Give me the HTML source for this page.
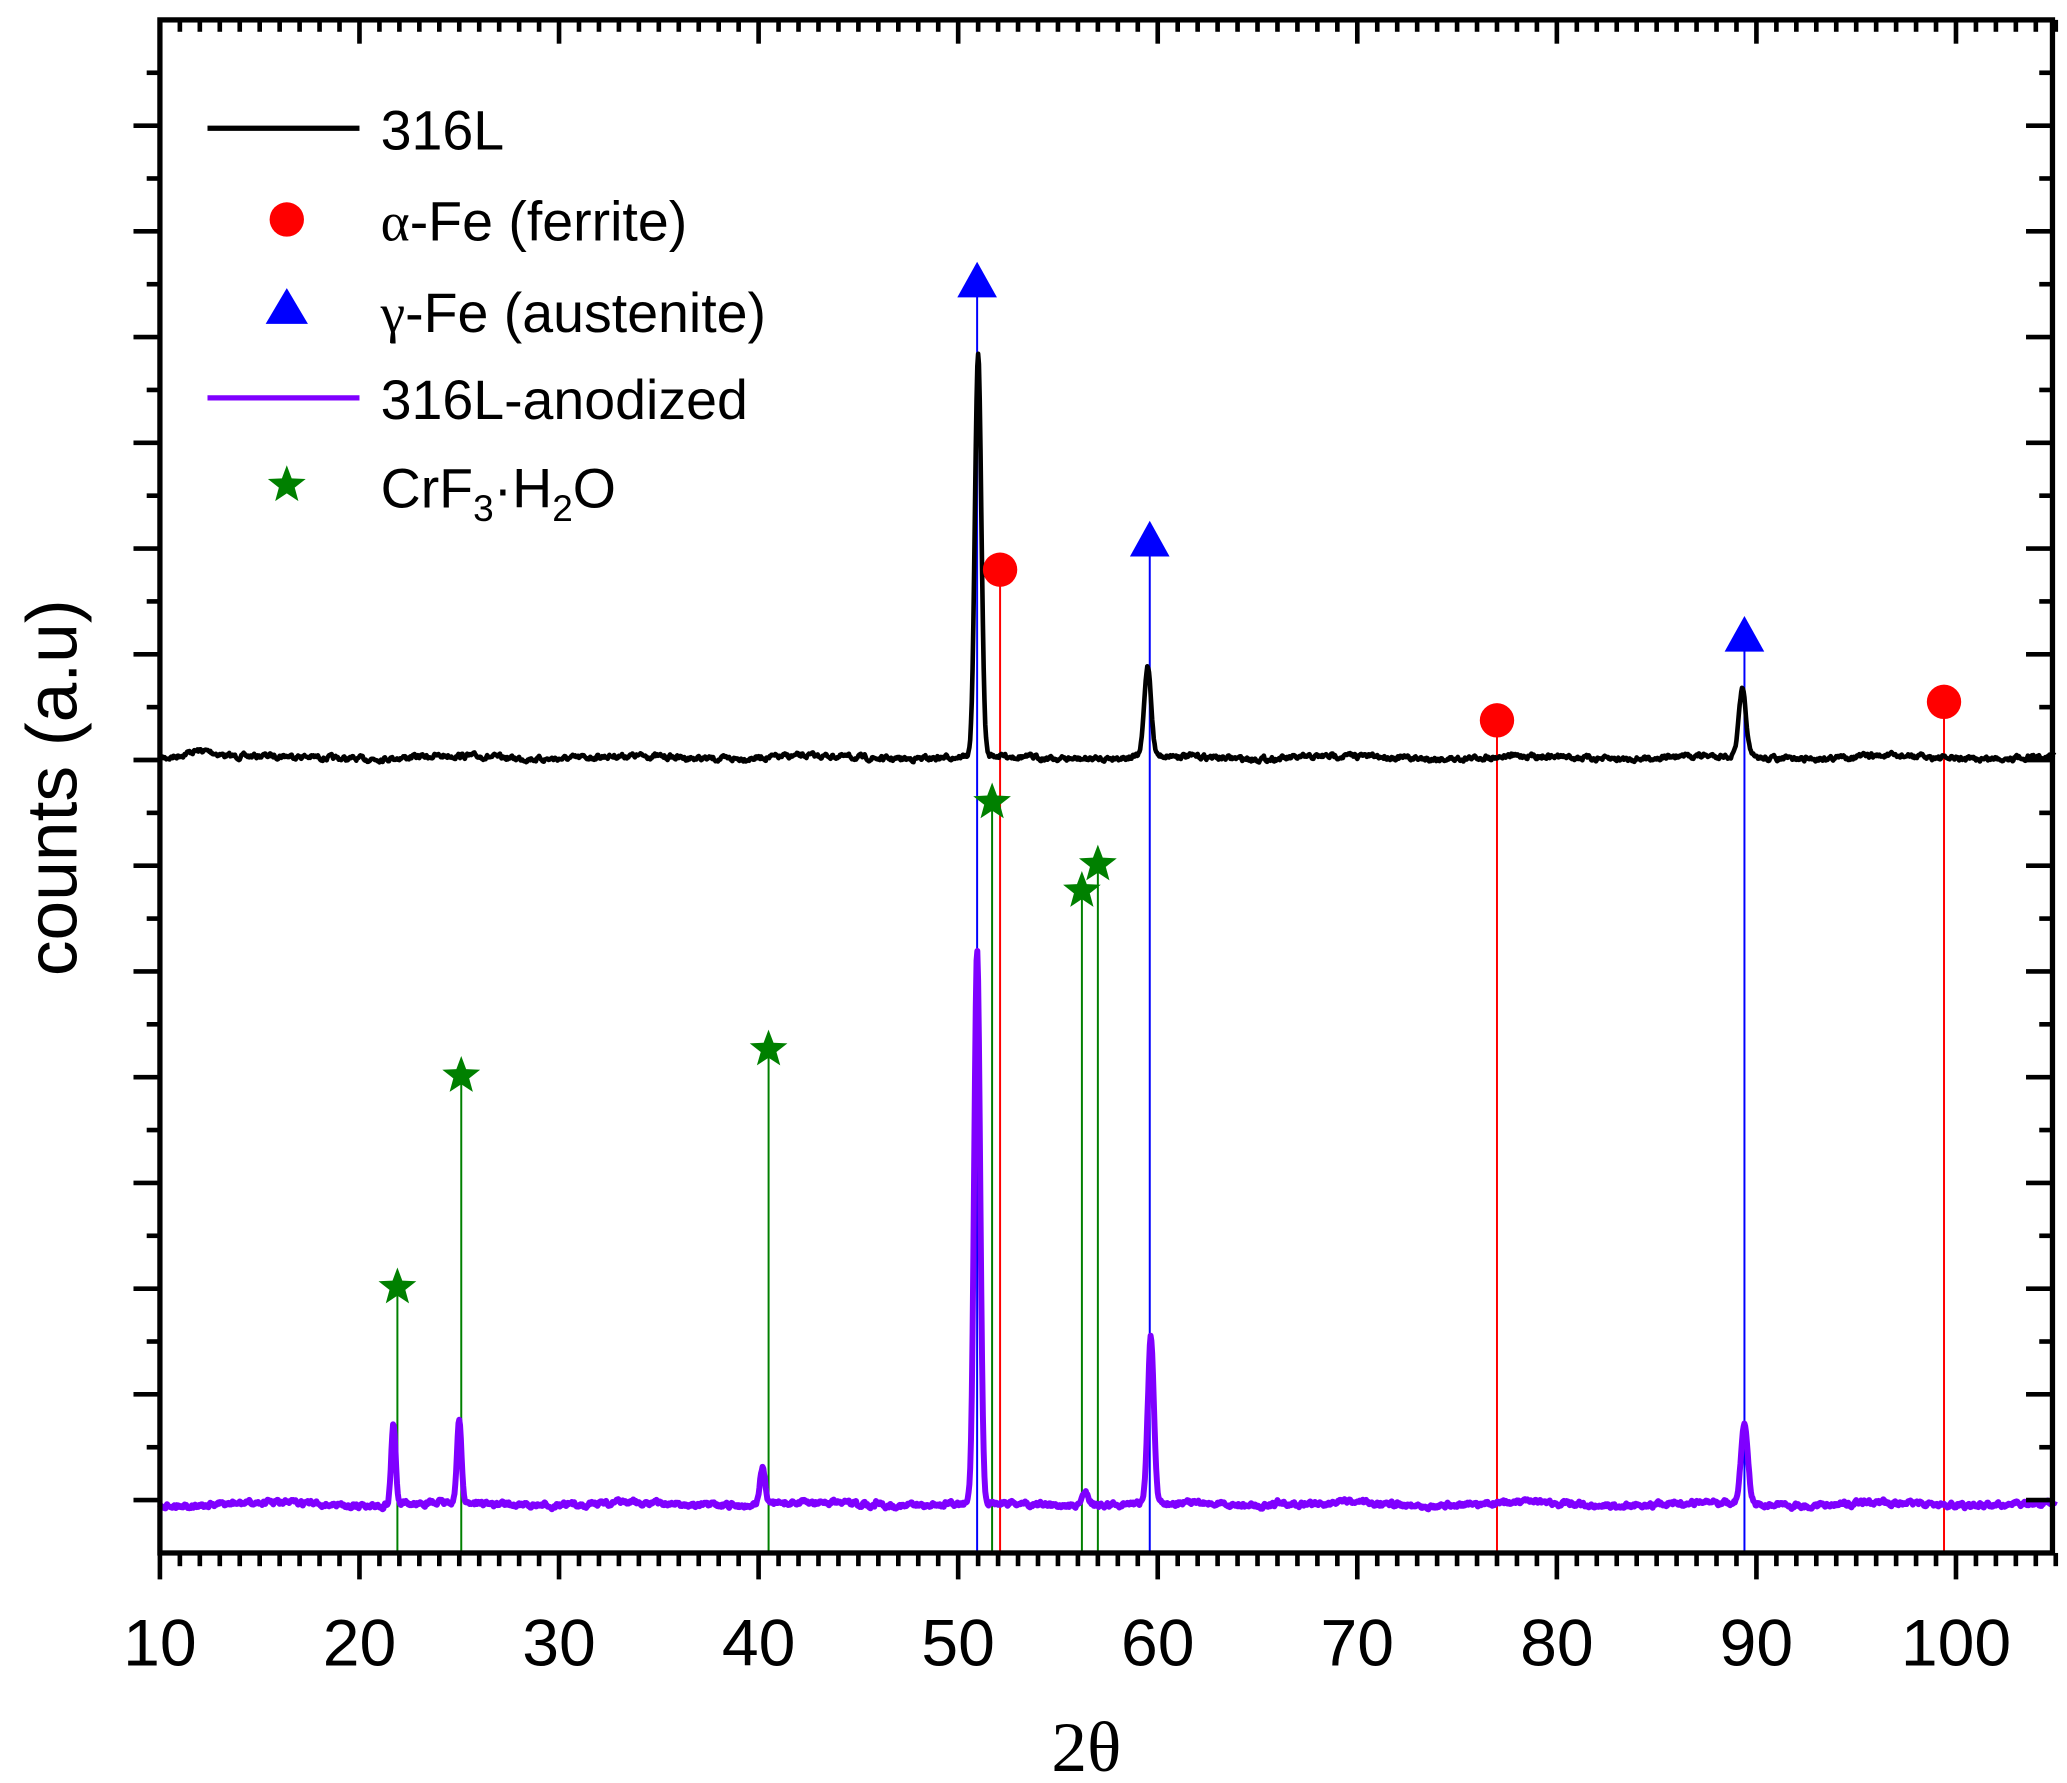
<!DOCTYPE html>
<html><head><meta charset="utf-8"><style>html,body{margin:0;padding:0;background:#fff}svg{display:block}</style></head>
<body>
<svg id="s" xmlns="http://www.w3.org/2000/svg" width="2067" height="1783" viewBox="0 0 1564 1349" font-family="'Liberation Sans', sans-serif">
<rect width="1564" height="1349" fill="#fff"/>
<g id="refs"></g>
<g id="traces"></g>
<g id="ticks" stroke="#000" stroke-width="3.5"></g>
<rect x="121" y="15" width="1432" height="1160" fill="none" stroke="#000" stroke-width="4"/>
<g id="markers"></g>
<g font-size="50" text-anchor="middle" fill="#000">
<text x="121" y="1260">10</text><text x="272" y="1260">20</text><text x="423" y="1260">30</text>
<text x="574" y="1260">40</text><text x="725" y="1260">50</text><text x="876" y="1260">60</text>
<text x="1027" y="1260">70</text><text x="1178" y="1260">80</text><text x="1329" y="1260">90</text>
<text x="1480" y="1260">100</text>
</g>
<text x="822" y="1340" font-size="54" text-anchor="middle" font-family="'Liberation Serif', serif">2θ</text>
<text transform="translate(58,596) rotate(-90)" font-size="54" text-anchor="middle">counts (a.u)</text>
<g font-size="42" fill="#000">
<line x1="157" y1="97" x2="272" y2="97" stroke="#000" stroke-width="4"/>
<text x="288" y="113">316L</text>
<circle cx="217" cy="166" r="13" fill="#f00"/>
<text x="288" y="182"><tspan font-family="'Liberation Serif', serif">α</tspan>-Fe (ferrite)</text>
<polygon points="217,218 233,245 201,245" fill="#00f"/>
<text x="288" y="251"><tspan font-family="'Liberation Serif', serif">γ</tspan>-Fe (austenite)</text>
<line x1="157" y1="301" x2="272" y2="301" stroke="#7f00ff" stroke-width="4"/>
<text x="288" y="317">316L-anodized</text>
<text x="288" y="384">CrF<tspan font-size="28" dy="10">3</tspan><tspan dy="-10">·H</tspan><tspan font-size="28" dy="10">2</tspan><tspan dy="-10">O</tspan></text>
</g>
<g id="legstar"></g>
</svg>
<script>
var NS="http://www.w3.org/2000/svg";
function X(v){return 121+(v-10)*15.1;}
function el(p,t,a){var e=document.createElementNS(NS,t);for(var k in a)e.setAttribute(k,a[k]);document.getElementById(p).appendChild(e);return e;}
for(var v=10;v<=105;v++){var x=X(v);var maj=(v%10==0);
el("ticks","line",{x1:x,y1:1175,x2:x,y2:1175+(maj?20:10)});
el("ticks","line",{x1:x,y1:15,x2:x,y2:15+(maj?18:9)});}
for(var y=1175-40,i=1;y>15;y-=40,i++){var maj=(i%2==1);
el("ticks","line",{x1:121,y1:y,x2:121-(maj?20:10),y2:y});
el("ticks","line",{x1:1553,y1:y,x2:1553-(maj?20:10),y2:y});}
var seed=7;function rnd(){seed=(seed*16807)%2147483647;return seed/2147483647-0.5;}
function trace(base,peaks,col,w){var d="";var sm=0;
for(var v=10;v<=105;v+=0.04){var y=base;sm=sm*0.6+rnd()*3;y+=sm+Math.sin(v*0.7)*1.2;
for(var k=0;k<peaks.length;k++){var p=peaks[k];var t=(v-p[0])/p[2];y-=p[1]*Math.exp(-t*t/2);}
d+=(d?"L":"M")+X(v).toFixed(1)+","+y.toFixed(1);}
el("traces","path",{d:d,fill:"none",stroke:col,"stroke-width":w,"stroke-linejoin":"round"});}
trace(573,[[51.0,305,0.16],[59.5,68,0.17],[89.3,50,0.18],[12,6,0.8]],"#000",3.5);
trace(1138,[[21.7,62,0.11],[25.0,64,0.11],[40.2,28,0.13],[50.95,418,0.15],[56.4,9,0.16],[59.65,125,0.15],[89.4,60,0.17],[46,3,0.1],[66,3,0.1]],"#7f00ff",4.5);
function star(p,cx,cy,r){var pts="";for(var i=0;i<10;i++){var a=-Math.PI/2+i*Math.PI/5;var rr=i%2?r*0.42:r;pts+=(cx+rr*Math.cos(a)).toFixed(1)+","+(cy+rr*Math.sin(a)).toFixed(1)+" ";}el(p,"polygon",{points:pts,fill:"#008000"});}
[[50.95,212],[59.6,408],[89.4,480]].forEach(function(a){var x=X(a[0]);el("refs","line",{x1:x,y1:1175,x2:x,y2:a[1],stroke:"#00f","stroke-width":1.5});el("markers","polygon",{points:x+","+(a[1]-14)+" "+(x+15)+","+(a[1]+13)+" "+(x-15)+","+(a[1]+13),fill:"#00f"});});
[[52.1,431],[77.0,545],[99.4,531]].forEach(function(a){var x=X(a[0]);el("refs","line",{x1:x,y1:1175,x2:x,y2:a[1],stroke:"#f00","stroke-width":1.5});el("markers","circle",{cx:x,cy:a[1],r:13,fill:"#f00"});});
[[21.9,974],[25.1,814],[40.5,794],[51.7,607],[56.2,674],[57.0,654]].forEach(function(a){var x=X(a[0]);el("refs","line",{x1:x,y1:1175,x2:x,y2:a[1],stroke:"#008000","stroke-width":1.5});star("markers",x,a[1],15);});
star("legstar",217,367,15);
</script>
</body></html>
